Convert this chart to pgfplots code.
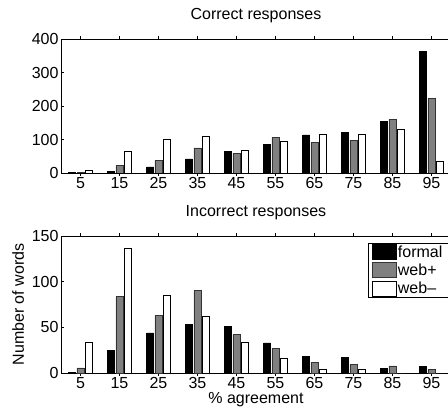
\documentclass[border=0pt]{standalone}
\usepackage{pgfplots}
\pgfplotsset{compat=1.18}
\usepackage{fontspec}
\setmainfont{Liberation Sans}
\begin{document}
\begin{tikzpicture}[font=\fontsize{16}{19}\selectfont]
\pgfplotsset{
  every axis/.append style={
    scale only axis,
    width=390pt,
    xmin=0, xmax=100,
    xtick={5,15,...,95},
    tick align=inside,
    tick pos=both,
    major tick length=3pt,
    axis line style={line width=0.8pt},
    tick style={line width=0.6pt, black},
    ybar, bar width=1.8,
    /pgf/number format/assume math mode=true,
    title style={at={(axis description cs:0.5,1)}, anchor=base, yshift=14pt},
    yticklabel style={xshift=1pt},
    xticklabel style={inner ysep=0.5pt, yshift=-1pt},
  },
  formal/.style={fill=black, draw=black, line width=0.6pt, bar shift=-2.15},
  webplus/.style={fill=black!50, draw=black!80, line width=0.6pt, bar shift=0},
  webminus/.style={fill=white, draw=black, line width=0.6pt, bar shift=2.15},
}
% Correct responses
\begin{axis}[
    at={(0,200pt)}, anchor=south west,
    height=134pt,
    ymin=0, ymax=400,
    ytick={0,100,200,300,400},
    title={Correct responses},
]
\addplot[formal] coordinates {(5,1) (15,5) (25,18) (35,42) (45,64) (55,85) (65,114) (75,121) (85,155) (95,363)};
\addplot[webplus] coordinates {(5,1) (15,22) (25,37) (35,75) (45,59) (55,106) (65,92) (75,98) (85,160) (95,222)};
\addplot[webminus] coordinates {(5,8) (15,66) (25,101) (35,111) (45,67) (55,94) (65,116) (75,115) (85,129) (95,34)};
\end{axis}
% Incorrect responses
\begin{axis}[
    at={(0,0)}, anchor=south west,
    height=137pt,
    ymin=0, ymax=150,
    ytick={0,50,100,150},
    title={Incorrect responses},
    xlabel={\% agreement},
    ylabel={Number of words},
    xlabel style={at={(axis description cs:0.5,0)}, anchor=base, yshift=-30.5pt, inner sep=0pt},
    ylabel style={at={(axis description cs:-0.11,0.5)}, anchor=center},
    legend image code/.code={\draw[#1] (0pt,-7.5pt) rectangle (24pt,7.5pt);},
    legend style={at={(0.787,0.949)}, anchor=north west, draw=black, line width=0.8pt,
      inner xsep=4pt, inner ysep=1pt, row sep=2.5pt, column sep=0pt,
      nodes={inner sep=1pt}, cells={anchor=west}},
]
\addplot[formal] coordinates {(5,1) (15,25) (25,44) (35,53) (45,51) (55,33) (65,18.5) (75,17.5) (85,4.7) (95,7)};
\addplot[webplus] coordinates {(5,5.5) (15,84) (25,63) (35,90.5) (45,42) (55,27) (65,12) (75,9) (85,7.7) (95,3.6)};
\addplot[webminus] coordinates {(5,34) (15,136) (25,85) (35,62) (45,34) (55,16) (65,4) (75,3.6) (85,0) (95,0)};
\legend{formal\hspace*{10pt},web+,web--}
\end{axis}
\pgfresetboundingbox
\path[use as bounding box] (-61pt,-35pt) rectangle (387pt,373pt);
\end{tikzpicture}
\end{document}
